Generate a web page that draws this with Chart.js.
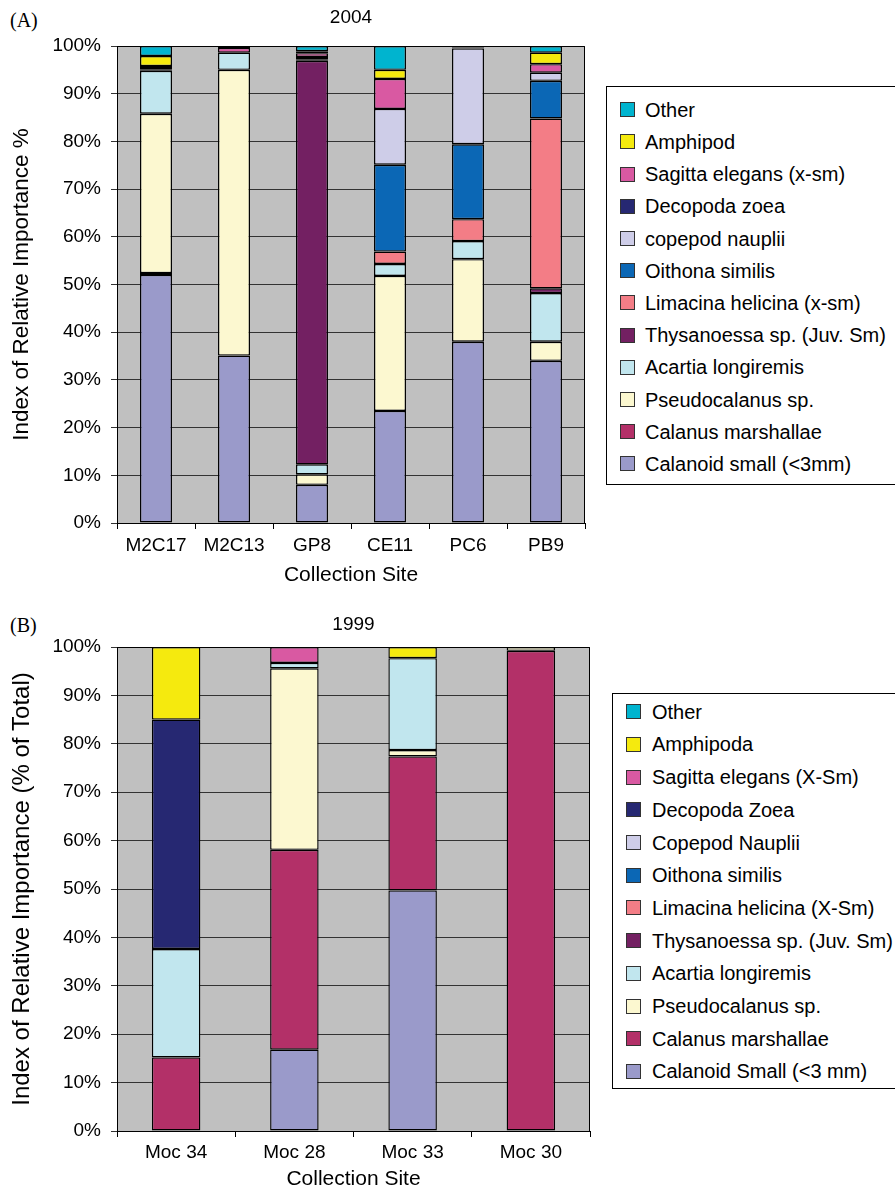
<!DOCTYPE html>
<html><head><meta charset="utf-8">
<script src="https://cdn.jsdelivr.net/npm/chart.js@4"></script>
<style>
html,body{margin:0;padding:0;background:#fff;overflow:hidden;width:895px;height:1192px;}
#wrap{position:relative;width:895px;height:1192px;overflow:hidden;font-family:"Liberation Sans",Arial,sans-serif;}
canvas{position:absolute;left:0;}
.lab{position:absolute;left:10px;font-family:"Liberation Serif","Times New Roman",serif;font-size:20px;line-height:24px;}
.legend{position:absolute;border:1px solid #000;background:#fff;width:320px;box-sizing:border-box;}
.item{position:absolute;font-size:20px;line-height:24px;height:24px;white-space:nowrap;color:#000;}
.sw{position:absolute;width:13px;height:13px;border:1px solid #333;}
</style>
</head><body>
<div id="wrap">
  <div class="lab" style="top:8px">(A)</div>
  <div class="lab" style="top:613px">(B)</div>
  <canvas id="c1" width="600" height="595" style="top:0px"></canvas>
  <canvas id="c2" width="600" height="592" style="top:600px"></canvas>
  <div id="leg1" class="legend" style="left:606px;top:86px;height:399px"></div>
  <div id="leg2" class="legend" style="left:612px;top:693px;height:396px"></div>
</div>
<script>
// ---------- 2004 data ----------
const sites2004 = ['M2C17','M2C13','GP8','CE11','PC6','PB9'];
const calanoidSmall2004 = [52.0, 35.1, 8.0, 23.5, 38.0, 34.0];
const calanus2004       = [0.4, 0, 0, 0, 0, 0];
const pseudo2004        = [33.4, 59.9, 2.2, 28.3, 17.3, 4.0];
const acartia2004       = [9.0, 3.6, 2.1, 2.5, 3.8, 10.2];
const thysanoessa2004   = [0.3, 0, 84.6, 0, 0, 1.0];
const limacina2004      = [0, 0, 0, 2.6, 4.6, 35.6];
const oithona2004       = [0, 0, 0, 18.2, 15.7, 7.9];
const nauplii2004       = [0, 0, 0.3, 11.7, 20.1, 1.7];
const decopoda2004      = [0.3, 0, 0.5, 0, 0, 0];
const sagitta2004       = [0.4, 1.0, 0.8, 6.3, 0.2, 1.8];
const amphipod2004      = [2.1, 0.2, 0.4, 1.9, 0.1, 2.4];
const other2004         = [2.1, 0.2, 1.1, 5.0, 0.2, 1.4];
const names2004 = ['Calanoid small (<3mm)','Calanus marshallae','Pseudocalanus sp.','Acartia longiremis',
  'Thysanoessa sp. (Juv. Sm)','Limacina helicina (x-sm)','Oithona similis','copepod nauplii',
  'Decopoda zoea','Sagitta elegans (x-sm)','Amphipod','Other'];

// ---------- 1999 data ----------
const sites1999 = ['Moc 34','Moc 28','Moc 33','Moc 30'];
const calanoidSmall1999 = [0, 16.8, 49.7, 0];
const calanus1999       = [15.2, 41.3, 27.7, 99.2];
const pseudo1999        = [0, 37.5, 1.3, 0.8];
const acartia1999       = [22.4, 1.1, 19.0, 0];
const thysanoessa1999   = [0, 0, 0, 0];
const limacina1999      = [0, 0, 0, 0];
const oithona1999       = [0, 0, 0, 0];
const nauplii1999       = [0, 0, 0, 0];
const decopoda1999      = [47.4, 0, 0, 0];
const sagitta1999       = [0, 3.3, 0, 0];
const amphipoda1999     = [15.0, 0, 2.3, 0];
const other1999         = [0, 0, 0, 0];
const names1999 = ['Calanoid Small (<3 mm)','Calanus marshallae','Pseudocalanus sp.','Acartia longiremis',
  'Thysanoessa sp. (Juv. Sm)','Limacina helicina (X-Sm)','Oithona similis','Copepod Nauplii',
  'Decopoda Zoea','Sagitta elegans (X-Sm)','Amphipoda','Other'];

const yTicks = [0,10,20,30,40,50,60,70,80,90,100];

const colors = ['#9a9aca','#b33068','#fcf8d0','#c1e6ee','#732062','#f37d86',
  '#0b67b5','#cecde8','#262872','#d959a2','#f5ea0e','#00b4cf'];

const values2004 = [calanoidSmall2004, calanus2004, pseudo2004, acartia2004, thysanoessa2004, limacina2004,
  oithona2004, nauplii2004, decopoda2004, sagitta2004, amphipod2004, other2004];
const values1999 = [calanoidSmall1999, calanus1999, pseudo1999, acartia1999, thysanoessa1999, limacina1999,
  oithona1999, nauplii1999, decopoda1999, sagitta1999, amphipoda1999, other1999];

const FONT = '"Liberation Sans", Arial, sans-serif';

const framePlugin = {
  id: 'frame',
  beforeDraw(chart, args, opts) {
    const {ctx, chartArea: a} = chart;
    ctx.save();
    ctx.fillStyle = '#c0c0c0';
    ctx.fillRect(a.left, a.top, a.right - a.left, a.bottom - a.top);
    ctx.restore();
  },
  afterDraw(chart, args, opts) {
    const {ctx, chartArea: a} = chart;
    ctx.save();
    ctx.strokeStyle = '#000';
    ctx.lineWidth = 1;
    ctx.beginPath();
    ctx.moveTo(Math.round(a.left) + 0.5, Math.round(a.top) + 0.5);
    ctx.lineTo(Math.round(a.right) - 0.5, Math.round(a.top) + 0.5);
    ctx.lineTo(Math.round(a.right) - 0.5, Math.round(a.bottom));
    ctx.stroke();
    ctx.font = '19px ' + FONT;
    ctx.fillStyle = '#000';
    ctx.textAlign = 'center';
    ctx.textBaseline = 'middle';
    ctx.fillText(opts.text, (a.left + a.right) / 2, opts.y);
    ctx.restore();
  }
};

function makeChart(id, sites, values, names, cfg) {
  const datasets = values.map((arr, i) => ({
    label: names[i],
    data: arr.map(v => v === 0 ? null : v),
    backgroundColor: colors[i],
    borderColor: '#000',
    borderWidth: 1.4,
    borderSkipped: false,
    inflateAmount: 0,
    categoryPercentage: 1.0,
    barPercentage: 0.41
  }));
  return new Chart(document.getElementById(id), {
    type: 'bar',
    data: {labels: sites, datasets},
    plugins: [framePlugin],
    options: {
      responsive: false,
      animation: false,
      devicePixelRatio: 1,
      layout: {padding: {top: cfg.padTop, right: cfg.padRight, left: 0, bottom: 0}},
      plugins: {
        legend: {display: false},
        tooltip: {enabled: false},
        frame: {text: cfg.title, y: cfg.titleY}
      },
      scales: {
        x: {
          stacked: true,
          afterFit(s) { s.height = cfg.xHeight; },
          grid: {display: true, drawOnChartArea: false, drawTicks: true, tickLength: 6, color: '#000', offset: true},
          border: {display: true, color: '#000', width: 1},
          ticks: {color: '#000', font: {family: FONT, size: 19}, padding: cfg.xTickPad, maxRotation: 0, autoSkip: false},
          title: {display: true, text: 'Collection Site', color: '#000', font: {family: FONT, size: 21},
                  padding: {top: 0, bottom: cfg.xTitlePad}}
        },
        y: {
          stacked: true,
          min: 0, max: 100,
          afterFit(s) { s.width = 117; },
          afterBuildTicks(s) { s.ticks = yTicks.map(v => ({value: v})); },
          grid: {color: '#333', lineWidth: 1, tickLength: 6, drawTicks: true},
          border: {display: true, color: '#000', width: 1},
          ticks: {color: '#000', font: {family: FONT, size: 19}, padding: 10, callback: v => v + '%'},
          title: {display: true, text: cfg.yTitle, color: '#000', font: {family: FONT, size: cfg.yTitleSize},
                  padding: {top: cfg.yTitlePad, bottom: 0}}
        }
      }
    }
  });
}

makeChart('c1', sites2004, values2004, names2004, {
  padTop: 46, padRight: 15, xHeight: 72, xTickPad: 5, xTitlePad: 7,
  title: '2004', titleY: 18, yTitle: 'Index of Relative Importance %', yTitleSize: 22.5, yTitlePad: 8.5
});
makeChart('c2', sites1999, values1999, names1999, {
  padTop: 47, padRight: 10, xHeight: 61, xTickPad: 4, xTitlePad: 0,
  title: '1999', titleY: 25, yTitle: 'Index of Relative Importance (% of Total)', yTitleSize: 24, yTitlePad: 7.6
});

function buildLegend(elId, names, sx, tx, y0, dy) {
  const el = document.getElementById(elId);
  for (let k = 0; k < names.length; k++) {
    const i = names.length - 1 - k; // top-down: Other first
    const cy = y0 + dy * k;
    const sw = document.createElement('div');
    sw.className = 'sw';
    sw.style.left = sx + 'px';
    sw.style.top = (cy - 7.5) + 'px';
    sw.style.background = colors[i];
    el.appendChild(sw);
    const t = document.createElement('div');
    t.className = 'item';
    t.style.left = tx + 'px';
    t.style.top = (cy - 12) + 'px';
    t.textContent = names[i];
    el.appendChild(t);
  }
}
buildLegend('leg1', names2004, 13, 38, 22.7, 32.2);
buildLegend('leg2', names1999, 13, 39, 17.7, 32.7);
</script>
</body></html>
